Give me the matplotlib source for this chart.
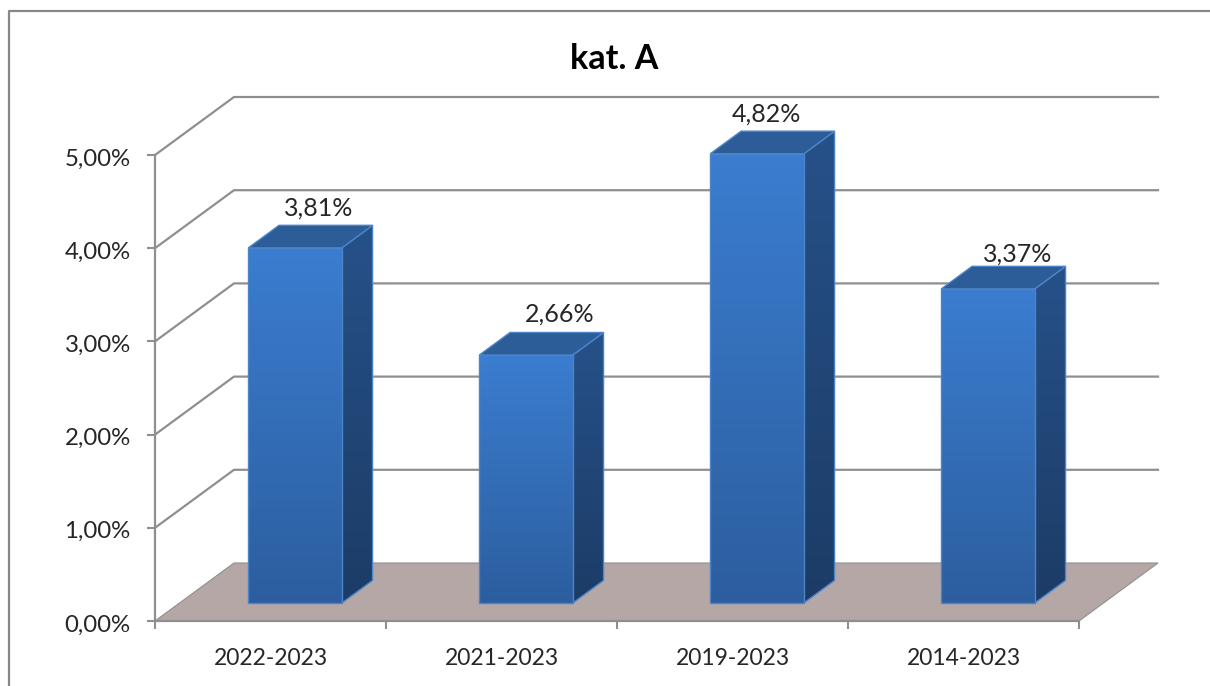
import numpy as np
import matplotlib
matplotlib.use("Agg")
import matplotlib.pyplot as plt
from matplotlib.lines import Line2D
from matplotlib.patches import Polygon
from matplotlib.transforms import ScaledTranslation

# ---------------- Data ----------------
categories = ["2022-2023", "2021-2023", "2019-2023", "2014-2023"]
values = [3.81, 2.66, 4.82, 3.37]
value_labels = ["3,81%", "2,66%", "4,82%", "3,37%"]
y_ticks = [0, 1, 2, 3, 4, 5]
y_tick_labels = ["0,00%", "1,00%", "2,00%", "3,00%", "4,00%", "5,00%"]
title = "kat. A"

# ---------------- Style ----------------
FONT = "Lato"
TEXT = "#262626"
GRID = "#8f8f8f"
FLOOR = "#b5a7a6"
EDGE = "#4c84c8"
FRONT = ("#3b7dd0", "#2c5e9f")
SIDE = ("#265189", "#1c3c66")
TOP = "#2c5d99"

# depth of the fake 3d box, in data units
DEPTH_X = 79 / 231
DEPTH_Y = 58 / 93.2
BAR_WIDTH = 93.5 / 231
BAR_START = 0.31   # where the bar starts inside the depth, 0..1
BAR_DEPTH = 0.39
# data label shift from the bar's front top centre, in pixels
label_dx = [24, 34, 9, 30]
label_dy = [40, 41, 40, 35]


def gradient_face(ax, points, colors, zorder):
    # vertical gradient clipped to the polygon
    pts = np.array(points)
    cmap = matplotlib.colors.LinearSegmentedColormap.from_list("face", colors)
    img = ax.imshow(np.linspace(0, 1, 256).reshape(-1, 1), cmap=cmap, aspect="auto", origin="upper",
                    extent=(pts[:, 0].min(), pts[:, 0].max(), pts[:, 1].min(), pts[:, 1].max()),
                    zorder=zorder)
    poly = Polygon(points, closed=True, facecolor="none", edgecolor=EDGE, linewidth=1.0,
                   zorder=zorder + 0.1, clip_on=False)
    ax.add_patch(poly)
    img.set_clip_path(poly)
    # the tallest bar goes above the axes box
    img.set_clip_box(ax.figure.bbox)


def draw_bar(ax, center, value, zorder):
    dx0, dy0 = DEPTH_X * BAR_START, DEPTH_Y * BAR_START
    ddx, ddy = DEPTH_X * BAR_DEPTH, DEPTH_Y * BAR_DEPTH
    x0 = center - BAR_WIDTH / 2 + dx0
    x1 = center + BAR_WIDTH / 2 + dx0
    y0 = dy0
    y1 = dy0 + value
    gradient_face(ax, [(x1, y0), (x1 + ddx, y0 + ddy), (x1 + ddx, y1 + ddy), (x1, y1)], SIDE, zorder)
    ax.add_patch(Polygon([(x0, y1), (x1, y1), (x1 + ddx, y1 + ddy), (x0 + ddx, y1 + ddy)], closed=True,
                         facecolor=TOP, edgecolor=EDGE, linewidth=1.0, zorder=zorder + 0.2, clip_on=False))
    gradient_face(ax, [(x0, y0), (x1, y0), (x1, y1), (x0, y1)], FRONT, zorder + 0.3)
    return (x0 + x1) / 2, y1


fig = plt.figure(figsize=(12.10, 6.86), dpi=100, facecolor="white")
plt.rcParams["font.family"] = [FONT, "DejaVu Sans"]

# outer chart frame, open at the right and bottom
fig.add_artist(Line2D([9 / 1210, 9 / 1210, 1], [0, 1 - 11 / 686, 1 - 11 / 686], color="#878787", linewidth=1.6))

ax = fig.add_axes([155 / 1210, 65 / 686, 924 / 1210, 466 / 686])
ax.patch.set_visible(False)
n = len(categories)

# gridlines run up the side wall and along the back wall
for tick in y_ticks[1:]:
    ax.plot([0, DEPTH_X, n + DEPTH_X], [tick, tick + DEPTH_Y, tick + DEPTH_Y], color=GRID, linewidth=1.6,
            zorder=1, clip_on=False, solid_joinstyle="miter")

ax.add_patch(Polygon([(0, 0), (n, 0), (n + DEPTH_X, DEPTH_Y), (DEPTH_X, DEPTH_Y)], closed=True,
                     facecolor=FLOOR, edgecolor=GRID, linewidth=0.8, zorder=2, clip_on=False))

for i, (value, label) in enumerate(zip(values, value_labels)):
    cx, cy = draw_bar(ax, i + 0.5, value, 3 + i)
    ax.annotate(label, (cx, cy), xytext=(label_dx[i] * 0.72, label_dy[i] * 0.72), textcoords="offset points",
                ha="center", va="center", fontsize=18, color=TEXT, zorder=20, annotation_clip=False)

ax.set_xlim(0, n)
ax.set_ylim(0, 5)

ax.set_yticks(y_ticks)
ax.set_yticklabels(y_tick_labels, fontsize=17.3, color=TEXT)
ax.set_xticks(range(n + 1))
ax.set_xticklabels([])
ax.set_xticks(np.arange(n) + 0.5, minor=True)
ax.set_xticklabels(categories, minor=True, fontsize=16.5, color=TEXT)
ax.tick_params(axis="y", length=5.5, width=1.5, color=GRID, pad=12)
ax.tick_params(axis="x", which="major", length=6, width=1.5, color=GRID)
ax.tick_params(axis="x", which="minor", length=0, pad=19.7)

# y labels sit about 2px under their ticks in the original
shift_down = ScaledTranslation(0, -2 / 100, fig.dpi_scale_trans)
for tick_label in ax.get_yticklabels():
    tick_label.set_transform(tick_label.get_transform() + shift_down)

for side in ["top", "right"]:
    ax.spines[side].set_visible(False)
for side in ["left", "bottom"]:
    ax.spines[side].set_color(GRID)
    ax.spines[side].set_linewidth(1.6)
    ax.spines[side].set_zorder(2.5)

fig.text(614 / 1210, 1 - 59 / 686, title, ha="center", va="center", fontsize=24.5, fontweight="bold", color="black")

fig.savefig("out.png", dpi=100)
